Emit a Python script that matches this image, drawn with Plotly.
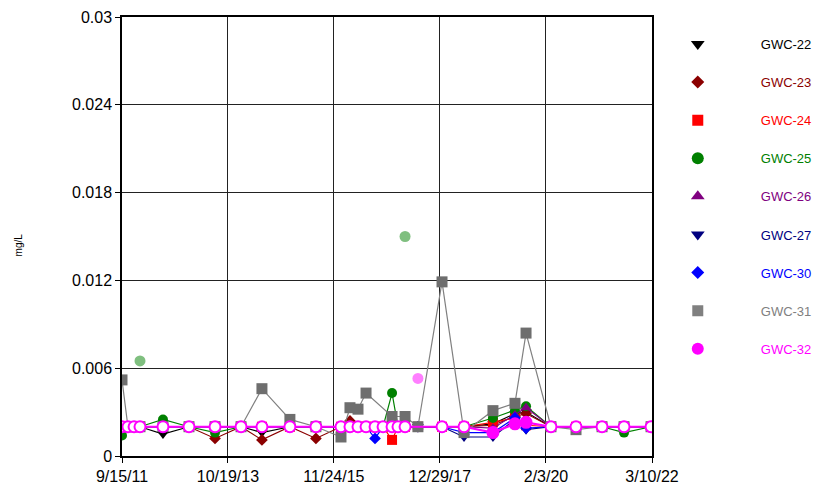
import plotly.graph_objects as go

# Sample dates
dates = ["2011-09-15", "2011-10-28", "2011-12-11", "2012-01-23", "2012-07-07",
         "2013-01-11", "2013-07-18", "2014-01-22", "2014-06-22", "2015-01-10",
         "2015-07-17", "2016-01-14", "2016-03-19", "2016-05-16", "2016-07-13",
         "2016-09-16", "2016-11-13", "2017-01-17", "2017-03-01", "2017-04-21",
         "2017-07-23", "2018-01-13", "2018-06-21", "2019-01-16", "2019-06-24",
         "2019-09-12", "2020-03-10", "2020-09-07", "2021-03-14", "2021-08-20",
         "2022-03-03"]

GWC_22 = [0.002, 0.002, 0.002, 0.002, 0.0015, 0.002, 0.002, 0.002, 0.0016, 0.002,
          0.002, 0.002, 0.002, 0.002, 0.002, 0.002, 0.002, 0.002, 0.002, 0.002,
          0.002, 0.002, 0.002, 0.0022, 0.0029, 0.0030, 0.002, 0.002, 0.002, 0.002,
          0.002]
GWC_23 = [0.002, 0.002, 0.002, 0.002, 0.002, 0.002, 0.0012, 0.002, 0.0011, 0.002,
          0.0012, 0.002, 0.0024, 0.002, 0.002, 0.002, 0.002, 0.002, 0.002, 0.002,
          0.002, 0.002, 0.002, 0.0021, 0.0027, 0.0029, 0.002, 0.002, 0.002, 0.002,
          0.002]
GWC_24 = [0.002, 0.002, 0.002, 0.002, 0.002, 0.002, 0.002, 0.002, 0.002, 0.002,
          0.002, 0.002, 0.002, 0.002, 0.002, 0.002, 0.002, 0.0011, 0.002, 0.002,
          0.002, 0.002, 0.002, 0.0023, 0.0026, 0.0021, 0.002, 0.002, 0.002, 0.002,
          0.002]
GWC_25 = [0.0014, 0.002, 0.002, 0.002, 0.0025, 0.002, 0.0016, 0.002, 0.002, 0.002,
          0.002, 0.002, 0.002, 0.002, 0.002, 0.002, 0.002, 0.0043, 0.002, 0.002,
          0.002, 0.002, 0.002, 0.0026, 0.0031, 0.0034, 0.002, 0.002, 0.002, 0.0016,
          0.002]
GWC_26 = [0.002, 0.002, 0.002, 0.002, 0.002, 0.002, 0.002, 0.002, 0.002, 0.002,
          0.002, 0.002, 0.002, 0.002, 0.002, 0.002, 0.002, 0.002, 0.002, 0.002,
          0.002, 0.002, 0.002, 0.0019, 0.0028, 0.0033, 0.002, 0.002, 0.002, 0.002,
          0.002]
GWC_27 = [0.002, 0.002, 0.002, 0.002, 0.002, 0.002, 0.002, 0.002, 0.002, 0.002,
          0.002, 0.002, 0.002, 0.002, 0.002, 0.002, 0.002, 0.002, 0.002, 0.002,
          0.002, 0.002, 0.0013, 0.0013, 0.0025, 0.0018, 0.002, 0.002, 0.002, 0.002,
          0.002]
GWC_30 = [0.002, 0.002, 0.002, 0.002, 0.002, 0.002, 0.002, 0.002, 0.002, 0.002,
          0.002, 0.002, 0.002, 0.002, 0.002, 0.0012, 0.002, 0.002, 0.002, 0.002,
          0.002, 0.002, 0.0016, 0.0016, 0.0026, 0.0019, 0.002, 0.002, 0.002, 0.002,
          0.002]
GWC_31 = [0.0052, 0.002, 0.002, 0.002, 0.002, 0.002, 0.002, 0.002, 0.0046, 0.0025,
          0.002, 0.0013, 0.0033, 0.0032, 0.0043, None, None, 0.0027, None, 0.0027,
          0.002, 0.0119, 0.0016, 0.0031, 0.0036, 0.0084, 0.002, 0.0018, 0.002, 0.002,
          0.002]
GWC_32 = [0.002, 0.002, 0.002, 0.002, 0.002, 0.002, 0.002, 0.002, 0.002, 0.002,
          0.002, 0.002, 0.002, 0.002, 0.002, 0.002, 0.002, 0.002, 0.002, 0.002,
          None, 0.002, 0.002, 0.0016, 0.0022, 0.0023, 0.002, 0.002, 0.002, 0.002,
          0.002]

# Flagged (unconnected, faded) results
flag25_dates = ["2012-01-23", "2017-04-21"]
flag25_vals = [0.0065, 0.015]
flag32_dates = ["2017-07-23"]
flag32_vals = [0.0053]

reporting_limit = 0.002

series_names = ["GWC-22", "GWC-23", "GWC-24", "GWC-25", "GWC-26",
                "GWC-27", "GWC-30", "GWC-31", "GWC-32"]
series_values = [GWC_22, GWC_23, GWC_24, GWC_25, GWC_26, GWC_27, GWC_30, GWC_31, GWC_32]
colors = ["#000000", "#8B0000", "#FF0000", "#008000", "#800080",
          "#000080", "#0000FF", "#808080", "#FF00FF"]
marker_colors = ["#000000", "#8B0000", "#FF0000", "#008000", "#800080",
                 "#000080", "#0000FF", "#6E6E6E", "#FF00FF"]
symbols = ["triangle-down", "diamond", "square", "circle", "triangle-up",
           "triangle-down", "diamond", "square", "circle"]
sizes = [10, 9, 10, 10, 10, 10, 9, 11, 11]
legend_sizes = [12, 10, 11, 12, 12, 12, 10, 11, 12]

tick_dates = ["2011-09-15", "2013-10-19", "2015-11-24", "2017-12-29", "2020-02-03", "2022-03-10"]
tick_labels = ["9/15/11", "10/19/13", "11/24/15", "12/29/17", "2/3/20", "3/10/22"]
y_ticks = [0, 0.006, 0.012, 0.018, 0.024, 0.03]
y_labels = ["0", "0.006", "0.012", "0.018", "0.024", "0.03"]

FONT = "Arial, Liberation Sans, sans-serif"

fig = go.Figure()

for i, (name, vals) in enumerate(zip(series_names, series_values)):
    if name == "GWC-32":
        mcol = ["white" if v == reporting_limit else colors[i] for v in vals]
        mline = dict(color=colors[i], width=2)
        lwidth = 2.2
    else:
        mcol = marker_colors[i]
        mline = dict(width=0)
        lwidth = 1.2
    fig.add_trace(go.Scatter(
        x=dates, y=vals, mode="lines+markers", connectgaps=True,
        line=dict(color=colors[i], width=lwidth),
        marker=dict(symbol=symbols[i], size=sizes[i], color=mcol, line=mline),
        showlegend=False, name=name))

fig.add_trace(go.Scatter(x=flag25_dates, y=flag25_vals, mode="markers",
                         marker=dict(symbol="circle", size=11, color="#008000", opacity=0.5),
                         showlegend=False))
fig.add_trace(go.Scatter(x=flag32_dates, y=flag32_vals, mode="markers",
                         marker=dict(symbol="circle", size=11, color="#FF00FF", opacity=0.5),
                         showlegend=False))

# Legend entries (marker only)
for i, name in enumerate(series_names):
    fig.add_trace(go.Scatter(
        x=[None], y=[None], mode="markers",
        marker=dict(symbol=symbols[i], size=legend_sizes[i], color=colors[i]),
        name='<span style="color:%s">%s</span>' % (colors[i], name),
        legendgroup=name, showlegend=True))

axis_common = dict(showline=True, mirror=True, linecolor="black", linewidth=1.5,
                   showgrid=True, gridcolor="#222222", gridwidth=1.3,
                   ticks="outside", ticklen=5, tickcolor="black", tickwidth=1.2,
                   tickfont=dict(family=FONT, size=16, color="black"), zeroline=False,
                   automargin=False)

fig.update_layout(
    width=825, height=490,
    margin=dict(l=122, r=173, t=17, b=34, autoexpand=False),
    paper_bgcolor="white", plot_bgcolor="white",
    xaxis=dict(type="date", range=["2011-09-15", "2022-03-10"],
               tickvals=tick_dates, ticktext=tick_labels, **axis_common),
    yaxis=dict(range=[0, 0.03], tickvals=y_ticks, ticktext=y_labels, **axis_common),
    legend=dict(x=0.9675, xanchor="left", y=0.9727, yanchor="top",
                font=dict(family=FONT, size=13, color="black"),
                tracegroupgap=18.2, itemwidth=116, bgcolor="rgba(0,0,0,0)",
                itemclick=False),
    annotations=[dict(text="mg/L", xref="paper", yref="paper", x=-0.196, y=0.48,
                      xanchor="center", yanchor="middle",
                      textangle=-90, showarrow=False,
                      font=dict(family=FONT, size=10, color="black"))],
    font=dict(family=FONT),
)

fig.write_html("out.html", config={"displayModeBar": False},
               post_script="document.body.style.margin='0';document.body.style.overflow='hidden';")
